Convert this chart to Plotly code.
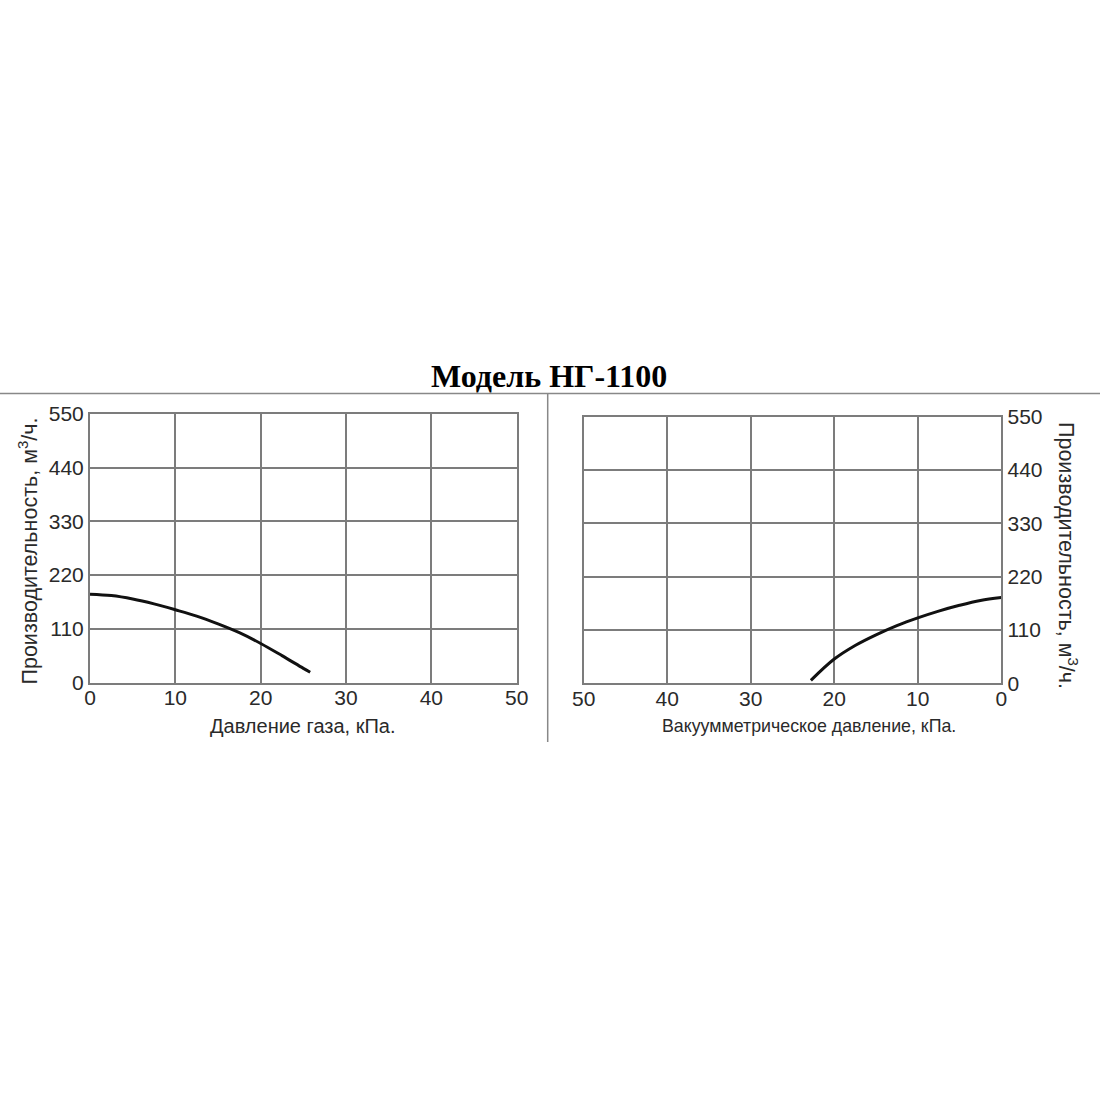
import plotly.graph_objects as go

# Data
yticks = [0, 110, 220, 330, 440, 550]
xticks = [0, 10, 20, 30, 40, 50]

left_pressure = [0, 2.5, 5, 7.5, 10, 12.5, 15, 17.5, 20, 22.5, 25, 25.8]
left_flow = [181, 178, 171, 161, 149, 136, 120, 102, 80, 55, 29, 21]

right_vacuum = [0, 2.5, 5, 7.5, 10, 12.5, 15, 17.5, 20, 22.8]
right_flow = [177, 171, 161, 149, 135, 119, 100, 78, 50, 6]

title_text = "<b>Модель НГ-1100</b>"
left_xtitle = "Давление газа, кПа."
right_xtitle = "Вакуумметрическое давление, кПа."
ytitle = "Производительность, м<sup>3</sup>/ч."

W = H = 1100
GRID = "#7c7c7c"
TXT = "#2a2a2a"

fig = go.Figure()
fig.add_trace(go.Scatter(x=left_pressure, y=left_flow, mode="lines",
                         line=dict(color="#111111", width=3, shape="spline", smoothing=1.0),
                         xaxis="x", yaxis="y", showlegend=False, hoverinfo="skip"))
fig.add_trace(go.Scatter(x=right_vacuum, y=right_flow, mode="lines",
                         line=dict(color="#111111", width=3, shape="spline", smoothing=1.0),
                         xaxis="x2", yaxis="y2", showlegend=False, hoverinfo="skip"))

def px(v):
    return v / W

def py(v):
    return 1 - v / H

axis_common = dict(showgrid=True, gridcolor=GRID, gridwidth=2,
                   showline=True, linecolor=GRID, linewidth=2, mirror=True,
                   zeroline=False, ticks="", automargin=False,
                   tickfont=dict(family="Liberation Sans", size=21, color=TXT),
                   fixedrange=True)

fig.update_layout(
    width=W, height=H, autosize=False,
    margin=dict(l=0, r=0, t=0, b=0, pad=0, autoexpand=False),
    paper_bgcolor="white", plot_bgcolor="white",
    showlegend=False,
    xaxis=dict(domain=[px(90), px(516.7)], range=[0, 50], tickvals=xticks, anchor="y",
               ticklabelstandoff=-5, **axis_common),
    yaxis=dict(domain=[py(682.5), py(414)], range=[0, 550], tickvals=yticks, anchor="x", **axis_common),
    xaxis2=dict(domain=[px(583.7), px(1001.3)], range=[50, 0], tickvals=xticks, anchor="y2",
                ticklabelstandoff=-5, **axis_common),
    yaxis2=dict(domain=[py(683.3), py(416.7)], range=[0, 550], tickvals=yticks, anchor="x2", side="right", **axis_common),
    annotations=[
        dict(text=title_text, x=px(549), y=py(376), xref="paper", yref="paper", showarrow=False,
             xanchor="center", yanchor="middle", font=dict(family="Liberation Serif", size=32, color="black")),
        dict(text=left_xtitle, x=px(303), y=py(726), xref="paper", yref="paper", showarrow=False,
             xanchor="center", yanchor="middle", font=dict(family="Liberation Sans", size=20, color=TXT)),
        dict(text=right_xtitle, x=px(809), y=py(726), xref="paper", yref="paper", showarrow=False,
             xanchor="center", yanchor="middle", font=dict(family="Liberation Sans", size=17.8, color=TXT)),
        dict(text=ytitle, x=px(27), y=py(551.5), xref="paper", yref="paper", showarrow=False, textangle=-90,
             xanchor="center", yanchor="middle", font=dict(family="Liberation Sans", size=21.5, color=TXT)),
        dict(text=ytitle, x=px(1068), y=py(555), xref="paper", yref="paper", showarrow=False, textangle=90,
             xanchor="center", yanchor="middle", font=dict(family="Liberation Sans", size=21.5, color=TXT)),
    ],
    shapes=[
        dict(type="line", xref="paper", yref="paper", x0=0, x1=1, y0=py(393.5), y1=py(393.5),
             line=dict(color="#888888", width=1.5)),
        dict(type="line", xref="paper", yref="paper", x0=px(547.7), x1=px(547.7), y0=py(393.5), y1=py(742),
             line=dict(color="#888888", width=1.5)),
    ],
)

fig.write_html("out.html", config={"displayModeBar": False, "staticPlot": True},
               post_script="document.body.style.margin='0px';document.body.style.overflow='hidden';")
